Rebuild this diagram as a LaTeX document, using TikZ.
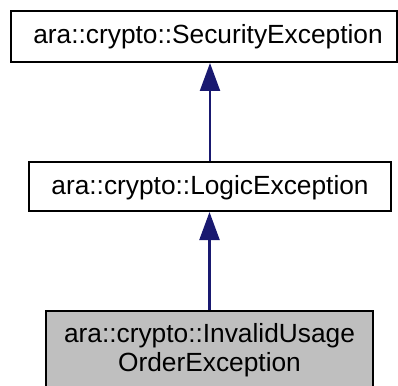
\documentclass[tikz,border=0pt]{standalone}
\usepackage{fontspec}
\setmainfont{Liberation Sans}
\usetikzlibrary{arrows.meta}
\definecolor{edgeblue}{HTML}{191970}
\definecolor{classgray}{HTML}{BFBFBF}
\tikzset{
  classbase/.style={draw=black, line width=2pt, fill=white, rectangle,
    font=\fontsize{26.3}{29}\selectfont, align=center, inner sep=0pt},
  classbox/.style={classbase, text height=19pt, text depth=4pt},
  inherit/.style={draw=edgeblue, line width=2.2pt,
    -{Triangle[length=28pt,width=20pt]}},
}
\begin{document}
\begin{tikzpicture}[x=1pt,y=-1pt]
  \useasboundingbox (0,0) rectangle (398,385);
  \clip (0,0) rectangle (398,385);
  \node[classbox, minimum width=386pt, minimum height=51pt] (sec) at (204,36.5)
    {\hspace*{8pt}ara::crypto::SecurityException};
  \node[classbox, minimum width=362pt, minimum height=49pt] (logic) at (210,186.5)
    {ara::crypto::LogicException};
  \node[classbase, fill=classgray, minimum width=327pt, anchor=north, inner ysep=12.7pt] (usage) at (209.5,310)
    {ara::crypto::InvalidUsage\\OrderException};
  \draw[inherit] (logic.north) -- (logic.north |- sec.south);
  \draw[inherit] (usage.north) -- (usage.north |- logic.south);
\end{tikzpicture}
\end{document}
